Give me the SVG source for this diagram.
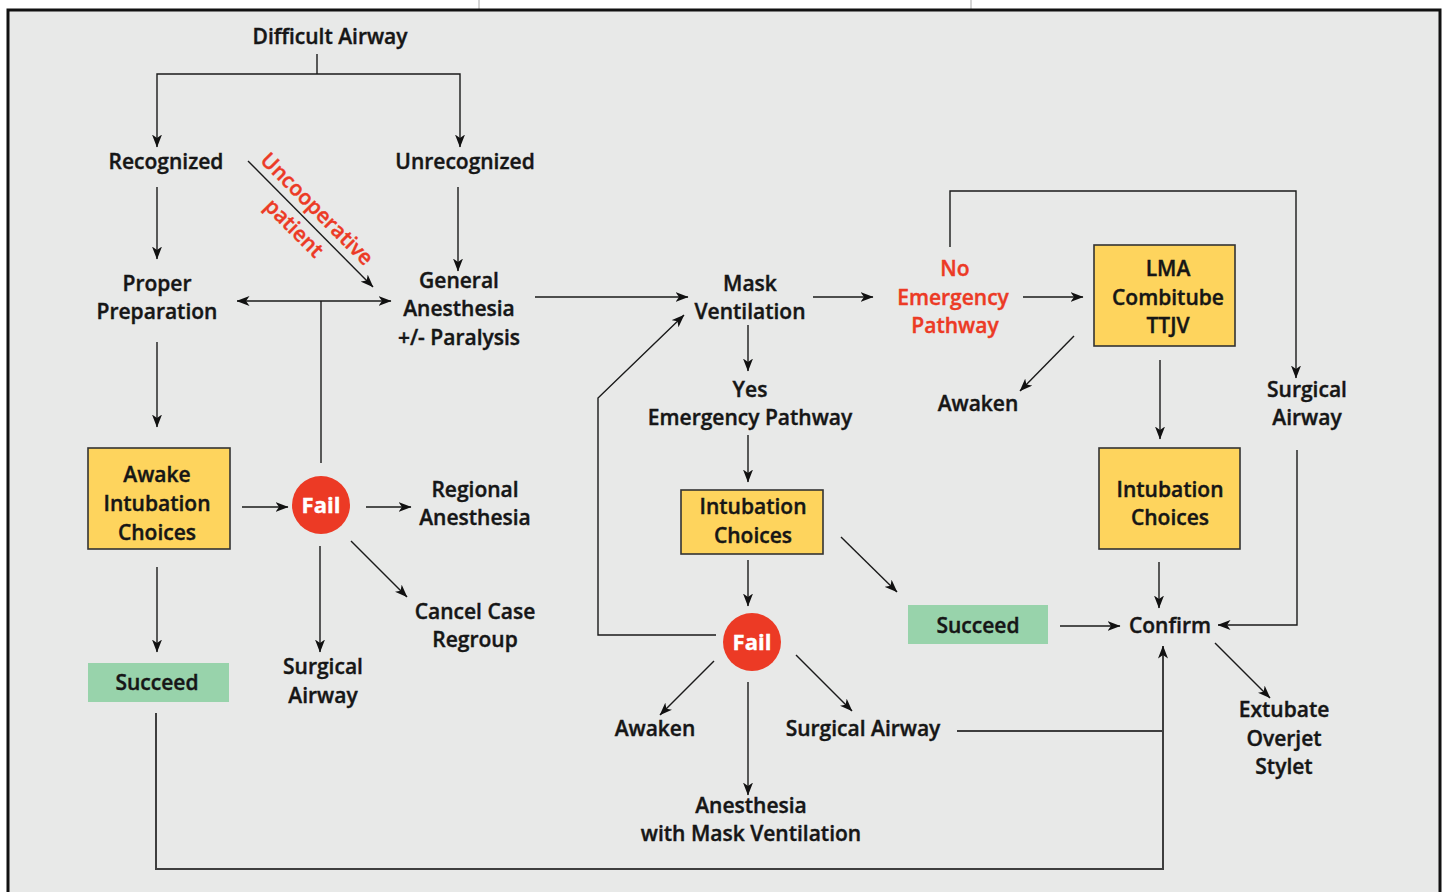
<svg xmlns="http://www.w3.org/2000/svg" width="1443" height="892" viewBox="0 0 1443 892">
<defs>
<style>
.t{font-family:"Open Sans","Noto Sans",sans-serif;font-weight:600;font-size:21px;fill:#161616;stroke:#161616;stroke-width:0.4;text-anchor:middle}
.r{fill:#ec3a25;stroke:#ec3a25}
.w{fill:#ffffff;stroke:#ffffff;font-weight:700;font-size:22px}
.c{fill:none;stroke:#1a1a1a;stroke-width:1.4}
.g{fill:none;stroke:#3e3e3e;stroke-width:2}
.a{marker-end:url(#ah)}
.box{fill:#fed45d;stroke:#333;stroke-width:1.6}
.ok{fill:#98d3ab}
.fail{fill:#ec3a25}
</style>
<marker id="ah" viewBox="0 0 13 10" refX="12.5" refY="5" markerWidth="13" markerHeight="10" markerUnits="userSpaceOnUse" orient="auto-start-reverse">
<path d="M0,0 L13,5 L0,10 L3.5,5 z" fill="#111"/>
</marker>
</defs>
<rect x="0" y="0" width="1443" height="892" fill="#ffffff"/>
<line x1="479" y1="0" x2="479" y2="9" stroke="#aaa" stroke-width="1"/>
<line x1="971" y1="0" x2="971" y2="9" stroke="#aaa" stroke-width="1"/>
<rect x="8" y="10" width="1432" height="900" fill="#e8e9e8" stroke="#111" stroke-width="3"/>

<g id="connectors">
<path class="c" d="M317,54 V74"/>
<path class="c a" d="M317,74 H157 V147"/>
<path class="c a" d="M317,74 H460 V147"/>
<path class="c a" d="M157,187 V259"/>
<path class="c a" d="M458,187 V271"/>
<path class="c a" d="M248,161 L373,287"/>
<path class="c a" d="M321,301 H237" />
<path class="c a" d="M321,301 H391"/>
<path class="c" d="M321,301 V463"/>
<path class="c a" d="M157,342 V427"/>
<path class="c a" d="M242,507 H288"/>
<path class="c a" d="M366,507 H411"/>
<path class="c a" d="M351,541 L407,597"/>
<path class="c a" d="M320,546 V652"/>
<path class="c a" d="M157,567 V652"/>
<path class="g a" d="M156,713 V869 H1163 V646"/>
<path class="c a" d="M535,297 H688"/>
<path class="c a" d="M813,297 H873"/>
<path class="c a" d="M1023,297 H1083"/>
<path class="c a" d="M950,247 V191 H1296 V378"/>
<path class="c a" d="M1074,336 L1020,391"/>
<path class="c a" d="M1160,360 V439"/>
<path class="c a" d="M1297,450 V625 H1218"/>
<path class="c a" d="M1159,562 V608"/>
<path class="c a" d="M1215,643 L1270,698"/>
<path class="c a" d="M748,325 V371"/>
<path class="c a" d="M748,435 V482"/>
<path class="c a" d="M748,560 V606"/>
<path class="c a" d="M841,537 L897,592"/>
<path class="c a" d="M1060,626 H1120"/>
<path class="c a" d="M716,635 H598 V398 L684,315"/>
<path class="c a" d="M714,661 L660,715"/>
<path class="c a" d="M748,682 V795"/>
<path class="c a" d="M796,655 L852,711"/>
<path class="g" d="M957,731 H1163"/>
</g>

<g id="difficult-airway"><text class="t" x="330" y="44">Difficult Airway</text></g>
<g id="recognized"><text class="t" x="166" y="169">Recognized</text></g>
<g id="unrecognized"><text class="t" x="465" y="169">Unrecognized</text></g>
<g id="uncooperative">
<text class="t r" transform="translate(312,214) rotate(45)">Uncooperative</text>
<text class="t r" transform="translate(289,233) rotate(45)">patient</text>
</g>
<g id="proper-preparation"><text class="t" x="157" y="291">Proper</text><text class="t" x="157" y="319">Preparation</text></g>
<g id="general-anesthesia"><text class="t" x="459" y="288">General</text><text class="t" x="459" y="316">Anesthesia</text><text class="t" x="459" y="345">+/- Paralysis</text></g>
<g id="awake-intubation"><rect class="box" x="88" y="448" width="142" height="101"/><text class="t" x="157" y="482">Awake</text><text class="t" x="157" y="511">Intubation</text><text class="t" x="157" y="540">Choices</text></g>
<g id="fail-1"><circle class="fail" cx="321" cy="505" r="29"/><text class="t w" x="321" y="513">Fail</text></g>
<g id="regional-anesthesia"><text class="t" x="475" y="497">Regional</text><text class="t" x="475" y="525">Anesthesia</text></g>
<g id="cancel-case"><text class="t" x="475" y="619">Cancel Case</text><text class="t" x="475" y="647">Regroup</text></g>
<g id="surgical-airway-1"><text class="t" x="323" y="674">Surgical</text><text class="t" x="323" y="703">Airway</text></g>
<g id="succeed-1"><rect class="ok" x="88" y="663" width="141" height="39"/><text class="t" x="157" y="690">Succeed</text></g>
<g id="mask-ventilation"><text class="t" x="750" y="291">Mask</text><text class="t" x="750" y="319">Ventilation</text></g>
<g id="no-emergency"><text class="t r" x="955" y="276">No</text><text class="t r" x="953" y="305">Emergency</text><text class="t r" x="955" y="333">Pathway</text></g>
<g id="lma"><rect class="box" x="1094" y="245" width="141" height="101"/><text class="t" x="1168" y="276">LMA</text><text class="t" x="1168" y="305">Combitube</text><text class="t" x="1168" y="333">TTJV</text></g>
<g id="awaken-1"><text class="t" x="978" y="411">Awaken</text></g>
<g id="surgical-airway-2"><text class="t" x="1307" y="397">Surgical</text><text class="t" x="1307" y="425">Airway</text></g>
<g id="intubation-choices-2"><rect class="box" x="1099" y="448" width="141" height="101"/><text class="t" x="1170" y="497">Intubation</text><text class="t" x="1170" y="525">Choices</text></g>
<g id="confirm"><text class="t" x="1170" y="633">Confirm</text></g>
<g id="extubate"><text class="t" x="1284" y="717">Extubate</text><text class="t" x="1284" y="746">Overjet</text><text class="t" x="1284" y="774">Stylet</text></g>
<g id="yes-emergency"><text class="t" x="750" y="397">Yes</text><text class="t" x="750" y="425">Emergency Pathway</text></g>
<g id="intubation-choices-1"><rect class="box" x="681" y="490" width="142" height="64"/><text class="t" x="753" y="514">Intubation</text><text class="t" x="753" y="543">Choices</text></g>
<g id="fail-2"><circle class="fail" cx="752" cy="642" r="29"/><text class="t w" x="752" y="650">Fail</text></g>
<g id="succeed-2"><rect class="ok" x="908" y="605" width="140" height="39"/><text class="t" x="978" y="633">Succeed</text></g>
<g id="awaken-2"><text class="t" x="655" y="736">Awaken</text></g>
<g id="anesthesia-mask"><text class="t" x="751" y="813">Anesthesia</text><text class="t" x="751" y="841">with Mask Ventilation</text></g>
<g id="surgical-airway-3"><text class="t" x="863" y="736">Surgical Airway</text></g>
</svg>
